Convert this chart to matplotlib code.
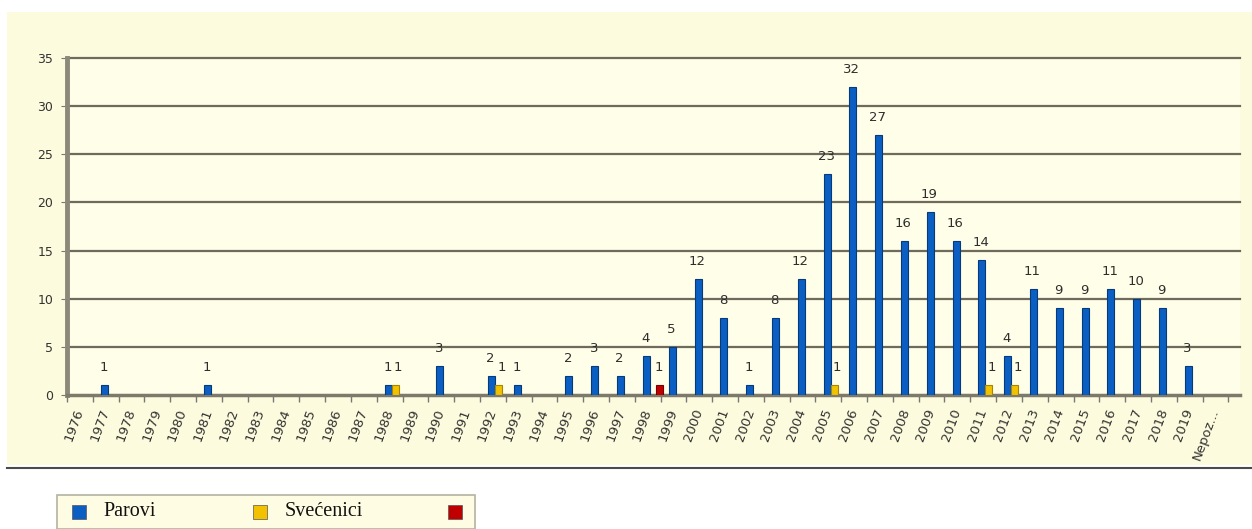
import matplotlib
matplotlib.use("Agg")
import matplotlib.pyplot as plt
from matplotlib.patches import Rectangle
from matplotlib.lines import Line2D
import numpy as np

categories = [str(y) for y in range(1976, 2020)] + ["Nepoz..."]
parovi = [0, 1, 0, 0, 0, 1, 0, 0, 0, 0, 0, 0, 1, 0, 3, 0, 2, 1, 0, 2,
          3, 2, 4, 5, 12, 8, 1, 8, 12, 23, 32, 27, 16, 19, 16, 14, 4, 11,
          9, 9, 11, 10, 9, 3, 0]
svecenici = [0, 0, 0, 0, 0, 0, 0, 0, 0, 0, 0, 0, 1, 0, 0, 0, 1, 0, 0, 0,
             0, 0, 0, 0, 0, 0, 0, 0, 0, 1, 0, 0, 0, 0, 0, 1, 1, 0,
             0, 0, 0, 0, 0, 0, 0]
treci = [0, 0, 0, 0, 0, 0, 0, 0, 0, 0, 0, 0, 0, 0, 0, 0, 0, 0, 0, 0,
         0, 0, 1, 0, 0, 0, 0, 0, 0, 0, 0, 0, 0, 0, 0, 0, 0, 0,
         0, 0, 0, 0, 0, 0, 0]
series_names = ["Parovi", "Svećenici", ""]
series_colors = ["#0b5ec2", "#f2c200", "#c00000"]
series_edges = ["#073a7a", "#a88400", "#7a0000"]
yticks = [0, 5, 10, 15, 20, 25, 30, 35]

W, H = 1252, 529
fig = plt.figure(figsize=(W / 100, H / 100), dpi=100)
fig.patch.set_facecolor("white")

# cream panel
fig.add_artist(Rectangle((7 / W, (H - 465) / H), (W - 7) / W, (465 - 12) / H,
                         transform=fig.transFigure, facecolor="#fdfbdd",
                         edgecolor="none", zorder=-10))
fig.add_artist(Line2D([7 / W, 1.0], [(H - 468) / H] * 2, transform=fig.transFigure,
                      color="#4a4a4a", lw=1.5, zorder=-5))

ax = fig.add_axes([67 / W, (H - 395) / H, (1240 - 67) / W, (395 - 58) / H])
ax.set_facecolor("#fffee8")
ax.set_zorder(1)

x = np.arange(len(categories))
bw = 0.27
offsets = [-0.05, 0.22, 0.45]
label_shift = [-1, 3, 0]
all_series = [parovi, svecenici, treci]
for vals, off, c, ec, ls in zip(all_series, offsets, series_colors, series_edges, label_shift):
    v = np.array(vals, dtype=float)
    mask = v > 0
    ax.bar(x[mask] + off, v[mask], width=bw, color=c, edgecolor=ec,
           linewidth=0.8, zorder=3)
    for xi, vi in zip(x[mask] + off, v[mask]):
        ax.annotate(f"{int(vi)}", (xi, vi), xytext=(ls, 11), textcoords="offset pixels",
                    ha="center", va="bottom", fontsize=9.5, color="#2e2e2e",
                    family="DejaVu Sans", zorder=4)

ax.set_ylim(0, 35)
ax.set_xlim(-0.5, 44.95)
for yv in yticks[1:]:
    ax.axhline(yv, color="#6f6b5c", lw=1.6, zorder=1, clip_on=False)

for s in ("top", "right"):
    ax.spines[s].set_visible(False)
ax.spines["left"].set_color("#8c887a")
ax.spines["left"].set_linewidth(3.5)
ax.spines["bottom"].set_color("#7d7a6c")
ax.spines["bottom"].set_linewidth(2.5)

ax.set_yticks(yticks)
ax.set_yticklabels([str(v) for v in yticks], fontsize=9, color="#333333")
ax.tick_params(axis="y", length=4, color="#777777", pad=6)

ax.set_xticks(x)
ax.set_xticklabels(categories, rotation=70, ha="right", va="center",
                   rotation_mode="anchor", fontsize=9.5, color="#333333")
ax.tick_params(axis="x", which="major", length=0, pad=10)
ax.set_xticks(np.arange(-0.5, 45, 1), minor=True)
ax.tick_params(axis="x", which="minor", length=5, color="#777777", width=1)

# legend
lx0, ly0, lx1 = 57, 495, 475
fig.add_artist(Rectangle((lx0 / W, 0), (lx1 - lx0) / W, (H - ly0) / H,
                         transform=fig.transFigure, facecolor="#fefce2",
                         edgecolor="#b4b2a2", lw=1.2, zorder=1))
sq_x = [72, 253, 448]
tx_x = [103, 285, 480]
for sx, tx, name, c in zip(sq_x, tx_x, series_names, series_colors):
    fig.add_artist(Rectangle((sx / W, (H - 519) / H), 14 / W, 14 / H,
                             transform=fig.transFigure, facecolor=c,
                             edgecolor="#555555", lw=0.5, zorder=2))
    if name:
        fig.text(tx / W, (H - 512) / H, name, fontsize=14.5, family="Liberation Serif",
                 va="center", ha="left", color="#111111", zorder=3)

fig.savefig("out.png", dpi=100)
